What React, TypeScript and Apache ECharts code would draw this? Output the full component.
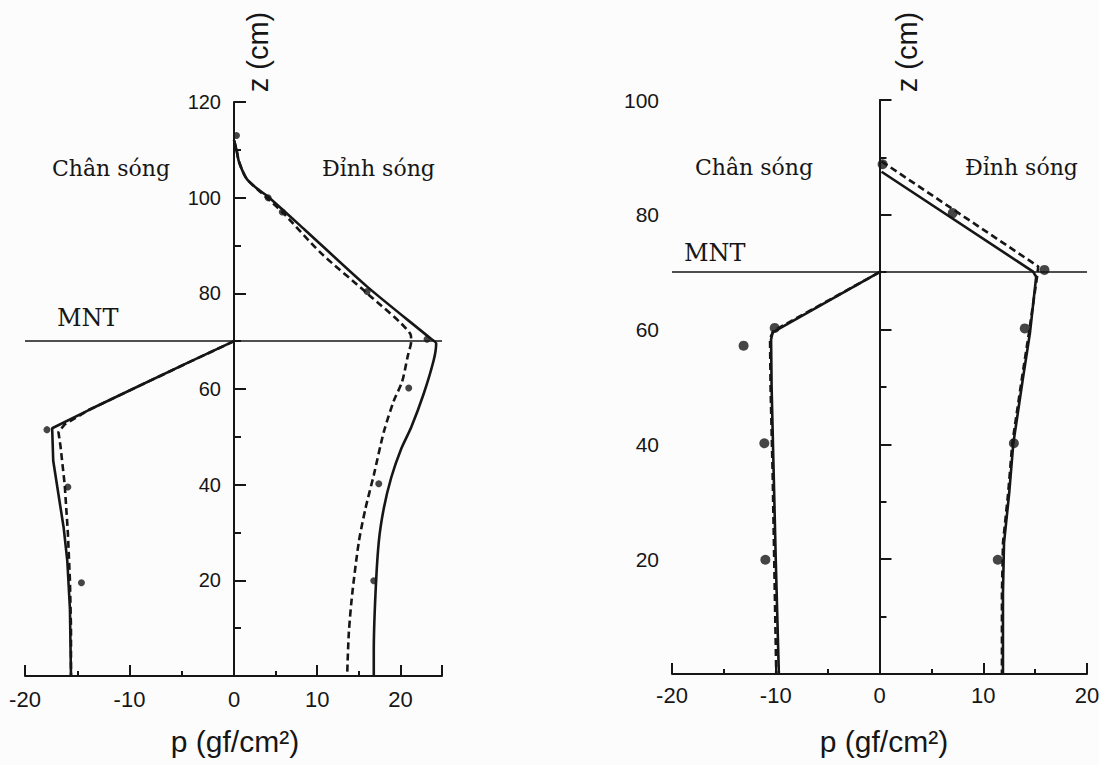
import React, { useEffect, useRef } from 'react';
import * as echarts from 'echarts';

// ---------- data (p in gf/cm2, z in cm) ----------
const mntLevel = 70;

// Left chart – trough (Chân sóng), negative pressure
const leftTroughSolid = [[0, 70], [-4.4, 65.5], [-9.5, 60.2], [-13.9, 55.6], [-17.4, 51.8], [-17.3, 45], [-16.8, 38], [-16.3, 31], [-15.95, 24], [-15.7, 14], [-15.6, 0]];
const leftTroughDashed = [[0, 70], [-4.4, 65.5], [-9.5, 60.2], [-13.9, 55.6], [-16.2, 52.6], [-16.8, 51], [-16.6, 48], [-16.2, 40], [-15.9, 30], [-15.7, 20], [-15.6, 10], [-15.6, 0]];
const leftTroughDots = [[-17.9, 51.5], [-15.9, 39.5], [-14.6, 19.5]];

// Left chart – crest (Đỉnh sóng), positive pressure
const leftCrestSolid = [[0, 112], [0.3, 110], [0.6, 107.5], [1.5, 104], [2.7, 102], [4.1, 100.2], [8.5, 93.3], [16.0, 81.4], [23.6, 70.6], [24.3, 69.5], [24.0, 66], [22.8, 59], [21.3, 52], [20.1, 47.5], [18.9, 41.5], [18.0, 35], [17.4, 28], [17.0, 17], [16.8, 5], [16.8, 0]];
const leftCrestDashed = [[0, 112], [0.3, 110], [0.6, 107.5], [1.5, 104], [3.3, 101], [5.8, 97], [10.4, 88.5], [16, 80], [21.2, 71.5], [21.3, 70], [20.9, 67], [20.2, 61.5], [19.2, 57.5], [18.0, 51], [16.8, 42], [15.8, 35], [15.0, 28], [14.2, 17], [13.8, 9], [13.6, 0]];
const leftCrestDots = [[0.3, 113], [4.1, 100], [5.8, 97], [16, 80.4], [23.2, 70.4], [21, 60.2], [17.4, 40.2], [16.8, 19.9]];

// Right chart – trough
const rightTroughSolid = [[0, 70], [-10.3, 59.5], [-10.45, 58.3], [-10.4, 50], [-10.2, 35], [-10.0, 20], [-9.7, 0]];
const rightTroughDashed = [[0, 70], [-10.2, 59.8], [-10.55, 58.5], [-10.5, 50], [-10.3, 35], [-10.15, 20], [-9.95, 0]];
const rightTroughDots = [[-10.1, 60.3], [-13.1, 57.2], [-11.1, 40.2], [-11.0, 19.9]];

// Right chart – crest
const rightCrestSolid = [[0.2, 87.5], [14.8, 70.1], [15.1, 69.2], [14.5, 59.4], [13.8, 51.2], [12.9, 40.2], [12.5, 31.5], [12.0, 22.8], [11.9, 14], [11.9, 0]];
const rightCrestDashed = [[0.2, 89.3], [15.3, 71], [15.2, 69.4], [14.4, 59.4], [13.7, 51.2], [12.8, 40.2], [12.4, 31.5], [11.9, 22.8], [11.8, 14], [11.8, 0]];
const rightCrestDots = [[0.3, 88.8], [7.06, 80.3], [15.9, 70.4], [14, 60.2], [12.95, 40.2], [11.4, 19.9]];

// tick labels
const leftXLabelsNeg = [-20, -10, 0];
const leftXLabelsPos = [10, 20];
const leftYLabels = [20, 40, 60, 80, 100, 120];
const rightXLabels = [-20, -10, 0, 10, 20];
const rightYLabels = [20, 40, 60, 80, 100];

// texts
const troughLabel = 'Chân sóng';
const crestLabel = 'Đỉnh sóng';
const mntLabel = 'MNT';
const zTitle = 'z (cm)';
const pTitle = 'p (gf/cm²)';

// ---------- styles ----------
const ink = '#161616';
const sans = '"Liberation Sans", Arial, sans-serif';
const serif = '"DejaVu Serif", serif';

const fmt = (list: number[]) => (v: number) => (list.indexOf(Math.round(v * 1000) / 1000) >= 0 ? String(v) : '');

function xAxis(gridIndex: number, min: number, max: number, interval: number, labels: number[] | null, extra: any = {}) {
  return {
    type: 'value',
    gridIndex,
    min,
    max,
    interval,
    position: 'bottom',
    axisLine: { show: true, onZero: false, lineStyle: { color: ink, width: 2 } },
    axisTick: { show: true, inside: true, length: 11, lineStyle: { color: ink, width: 2 } },
    axisLabel: labels
      ? { show: true, formatter: fmt(labels), color: ink, fontFamily: sans, fontSize: 22, margin: 12 }
      : { show: false },
    splitLine: { show: false },
    ...extra,
  };
}

function yAxis(gridIndex: number, max: number, labels: number[], show: boolean, fontSize: number) {
  return {
    type: 'value',
    gridIndex,
    min: 0,
    max,
    interval: 20,
    show,
    position: 'left',
    axisLine: { show: true, onZero: true, lineStyle: { color: ink, width: 2 } },
    axisTick: { show: true, inside: true, length: 12, lineStyle: { color: ink, width: 2 } },
    minorTick: { show: true, splitNumber: 2, length: 7, lineStyle: { color: ink, width: 2 } },
    axisLabel: { show: true, formatter: fmt(labels), color: ink, fontFamily: sans, fontSize, margin: 13 },
    splitLine: { show: false },
    minorSplitLine: { show: false },
  };
}

const mntMark = {
  silent: true,
  symbol: ['none', 'none'],
  label: { show: false },
  lineStyle: { color: ink, width: 1.5, type: 'solid' },
  data: [{ yAxis: mntLevel }],
};

function solid(data: number[][], xi: number, yi: number, withMark = false, smooth: number | boolean = false) {
  return {
    type: 'line',
    xAxisIndex: xi,
    yAxisIndex: yi,
    data,
    smooth,
    showSymbol: false,
    symbol: 'none',
    lineStyle: { color: ink, width: 2.6, type: 'solid' },
    z: 3,
    ...(withMark ? { markLine: mntMark } : {}),
  };
}

function dashed(data: number[][], xi: number, yi: number, smooth: number | boolean = false) {
  return {
    type: 'line',
    xAxisIndex: xi,
    yAxisIndex: yi,
    data,
    smooth,
    showSymbol: false,
    symbol: 'none',
    lineStyle: { color: ink, width: 2.6, type: [7, 4] },
    z: 2,
  };
}

function dots(data: number[][], xi: number, yi: number, size: number) {
  return {
    type: 'scatter',
    xAxisIndex: xi,
    yAxisIndex: yi,
    data,
    symbol: 'circle',
    symbolSize: size,
    itemStyle: { color: ink },
    z: 4,
  };
}

function label(text: string, x: number, y: number, font: string, align = 'left', rotation = 0) {
  return {
    type: 'text',
    x,
    y,
    rotation,
    silent: true,
    style: {
      text,
      font,
      fill: ink,
      align,
      textAlign: align,
      verticalAlign: 'middle',
      textVerticalAlign: 'middle',
    },
  };
}

const option: any = {
  animation: false,
  backgroundColor: '#fcfcfc',
  grid: [
    { left: 25, top: 102, width: 209, height: 574, containLabel: false, outerBoundsMode: 'none' },
    { left: 234, top: 102, width: 208, height: 574, containLabel: false, outerBoundsMode: 'none' },
    { left: 672, top: 100, width: 415, height: 574, containLabel: false, outerBoundsMode: 'none' },
  ],
  xAxis: [
    xAxis(0, -20, 0, 10, leftXLabelsNeg, {
      minorTick: { show: true, splitNumber: 2, length: 5, lineStyle: { color: ink, width: 2 } },
    }),
    xAxis(1, 0, 25, 10, leftXLabelsPos),
    xAxis(1, 0, 25, 5, null, {
      axisLine: { show: false, onZero: false },
      axisTick: { show: true, inside: true, length: 5, lineStyle: { color: ink, width: 2 } },
    }),
    xAxis(2, -20, 20, 10, rightXLabels, {
      axisLabel: { show: true, formatter: fmt(rightXLabels), color: ink, fontFamily: sans, fontSize: 22, margin: 10 },
      minorTick: { show: true, splitNumber: 2, length: 5, lineStyle: { color: ink, width: 2 } },
    }),
  ],
  yAxis: [
    yAxis(0, 120, leftYLabels, false, 20),
    yAxis(1, 120, leftYLabels, true, 20),
    yAxis(2, 100, rightYLabels, true, 21),
  ],
  series: [
    // left chart, trough side
    dashed(leftTroughDashed, 0, 0),
    solid(leftTroughSolid, 0, 0, true),
    dots(leftTroughDots, 0, 0, 7),
    // left chart, crest side
    dashed(leftCrestDashed, 1, 1, 0.25),
    solid(leftCrestSolid, 1, 1, true, 0.25),
    dots(leftCrestDots, 1, 1, 7),
    // right chart
    dashed(rightTroughDashed, 3, 2),
    solid(rightTroughSolid, 3, 2, true),
    dots(rightTroughDots, 3, 2, 10),
    dashed(rightCrestDashed, 3, 2),
    solid(rightCrestSolid, 3, 2),
    dots(rightCrestDots, 3, 2, 10),
  ],
  graphic: [
    label(troughLabel, 52, 168, `22px ${serif}`),
    label(crestLabel, 322, 168, `22px ${serif}`),
    label(mntLabel, 57, 318, `24px ${serif}`),
    label(zTitle, 258, 52, `29px ${sans}`, 'center', Math.PI / 2),
    label(pTitle, 235, 741, `30px ${sans}`, 'center'),

    label(troughLabel, 695, 167, `22px ${serif}`),
    label(crestLabel, 965, 167, `22px ${serif}`),
    label(mntLabel, 684, 253, `24px ${serif}`),
    label(zTitle, 907, 52, `29px ${sans}`, 'center', Math.PI / 2),
    label(pTitle, 884, 741, `30px ${sans}`, 'center'),
  ],
};

export default function App() {
  const ref = useRef<HTMLDivElement>(null);
  useEffect(() => {
    const chart = echarts.init(ref.current!, null, { renderer: 'svg' });
    chart.setOption(option);
    return () => chart.dispose();
  }, []);
  return (
    <div
      ref={ref}
      style={{ position: 'absolute', left: 0, top: 0, width: 1099, height: 765 }}
    />
  );
}
